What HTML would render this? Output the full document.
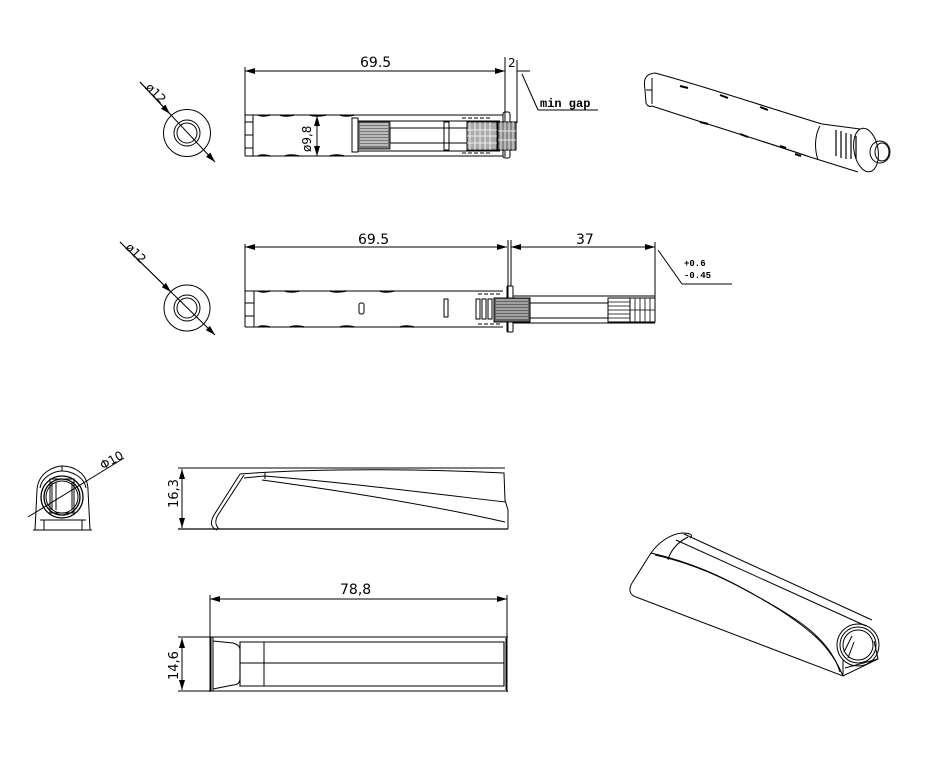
<!DOCTYPE html>
<html><head><meta charset="utf-8"><style>
html,body{margin:0;padding:0;background:#fff}
svg{display:block}
text{font-family:"DejaVu Sans","Liberation Sans",sans-serif;fill:#000}
.m{font-family:"Liberation Mono",monospace;font-weight:bold}
</style></head><body>
<svg width="934" height="760" viewBox="0 0 934 760" xmlns="http://www.w3.org/2000/svg" fill="none" stroke="#000" stroke-width="1">
<defs>
<marker id="a" viewBox="0 0 10 6" refX="10" refY="3" markerWidth="10" markerHeight="6" orient="auto-start-reverse"><path d="M0,0L10,3L0,6z" fill="#000" stroke="none"/></marker>
</defs>

<!-- ROW 1 -->
<circle cx="187" cy="133" r="23.5"/><circle cx="187" cy="133" r="13"/><circle cx="187" cy="133" r="10"/>
<line x1="140" y1="82" x2="215" y2="162" marker-end="url(#a)"/>
<line x1="140" y1="82" x2="170" y2="114" marker-end="url(#a)"/>
<text x="145" y="88" font-size="12" transform="rotate(45 145 88)" stroke="none">ø12</text>

<line x1="245" y1="67" x2="245" y2="115"/>
<line x1="245" y1="71" x2="505" y2="71" marker-start="url(#a)" marker-end="url(#a)"/>
<text x="360" y="67" font-size="14" stroke="none">69.5</text>
<line x1="505" y1="57" x2="505" y2="157"/><line x1="517" y1="60" x2="517" y2="123"/>
<line x1="517" y1="71" x2="530" y2="71"/>
<line x1="492" y1="71" x2="505" y2="71"/>
<text x="508" y="67" font-size="12" stroke="none">2</text>
<line x1="522" y1="74" x2="538" y2="110"/><line x1="538" y1="110" x2="598" y2="110"/>
<text x="540" y="107" class="m" font-size="12" stroke="none">min gap</text>
<!-- body -->
<path d="M245,115 H503 M245,156 H503 M245,115 V156 M253,115 V156"/>
<path d="M245,122 h8 M245,135 h8 M245,148 h8" />
<path d="M258,115 q4,2 12,0 M280,115 q4,2 14,0 M310,115 q6,2 16,0 M340,115 q6,2 14,0 M258,156 q4,-2 12,0 M285,156 q5,-2 14,0 M330,156 q6,-2 14,0" stroke-width="1.5"/>
<line x1="317" y1="116" x2="317" y2="156" marker-start="url(#a)" marker-end="url(#a)"/>
<text x="311" y="152" font-size="12" transform="rotate(-90 311 152)" stroke="none">ø9,8</text>
<rect x="352" y="118" width="6" height="34"/>
<rect x="358" y="122" width="32" height="27" fill="#777" stroke-width="0.8"/>
<path d="M360,124h28M360,127h28M360,130h28M360,133h28M360,136h28M360,139h28M360,142h28M360,145h28" stroke="#fff" stroke-width="0.9"/>
<path d="M358,121 H500 M358,151 H500"/>
<rect x="390" y="128" width="77" height="15"/>
<rect x="444" y="122" width="5" height="28"/>
<rect x="467" y="122" width="30" height="28" fill="#aaa"/>
<path d="M470,122v28M475,122v28M480,122v28M485,122v28M490,122v28M467,130h30M467,136h30M467,143h30" stroke="#fff" stroke-width="0.8"/>
<path d="M462,118h4m2,0h4m2,0h4m2,0h4m2,0h4 M462,153h4m2,0h4m2,0h4m2,0h4m2,0h4"/>
<rect x="503" y="112" width="7" height="46" rx="2"/>
<rect x="498" y="122" width="18" height="28" fill="#888"/>
<path d="M501,122v28M505,122v28M509,122v28M513,122v28M498,131h18M498,140h18" stroke="#fff" stroke-width="0.8"/>

<!-- 3D top -->
<path d="M655,73 C700,85 760,105 822,124 M652,106 C700,122 760,140 810,157" stroke-width="1.1"/>
<path d="M655,73 C646,74 643,78 645,90 L646,103 C647,106 650,107 652,106"/>
<path d="M646,90 h6 M652,78 v26"/>
<path d="M720,95 l8,3 M760,107 l8,3 M680,86 l8,2 M700,122 l8,2 M740,134 l8,3 M780,146 l6,2 M795,154 l6,2" stroke-width="2"/>
<path d="M820,126 C815,135 814,148 818,160"/>
<path d="M836,130 v26 M841,131 v27 M846,133 v26 M851,134 v25 M856,136 v23" stroke-width="1.2"/>
<ellipse cx="866" cy="150" rx="12" ry="22" transform="rotate(-10 866 150)"/>
<ellipse cx="880" cy="152" rx="10" ry="11"/><ellipse cx="882" cy="152" rx="7" ry="9"/>
<line x1="822" y1="124" x2="860" y2="129"/><line x1="810" y1="157" x2="858" y2="172"/>

<!-- ROW 2 -->
<circle cx="187" cy="308" r="23"/><circle cx="187" cy="308" r="13"/><circle cx="187" cy="308" r="10"/>
<line x1="120" y1="242" x2="215" y2="335" marker-end="url(#a)"/>
<line x1="120" y1="242" x2="171" y2="292" marker-end="url(#a)"/>
<text x="125" y="248" font-size="12" transform="rotate(45 125 248)" stroke="none">ø12</text>

<line x1="245" y1="244" x2="245" y2="291"/>
<line x1="245" y1="247" x2="507" y2="247" marker-start="url(#a)" marker-end="url(#a)"/>
<text x="358" y="244" font-size="14" stroke="none">69.5</text>
<line x1="508" y1="240" x2="508" y2="332"/><line x1="511" y1="240" x2="511" y2="286"/>
<line x1="511" y1="247" x2="655" y2="247" marker-start="url(#a)" marker-end="url(#a)"/>
<text x="576" y="244" font-size="14" stroke="none">37</text>
<line x1="655" y1="242" x2="655" y2="322"/>
<line x1="658" y1="250" x2="682" y2="284"/><line x1="682" y1="284" x2="732" y2="284"/>
<text x="684" y="266" class="m" font-size="9" stroke="none">+0.6</text>
<text x="684" y="278" class="m" font-size="9" stroke="none">-0.45</text>

<path d="M245,291 H503 M245,327 H503 M245,291 V327 M254,291 V327 M245,303h9 M245,316h9"/>
<path d="M258,291 q4,2 12,0 M285,291 q6,2 14,0 M330,291 q6,2 16,0 M380,291 q6,2 14,0 M258,327 q4,-2 12,0 M290,327 q6,-2 14,0 M340,327 q6,-2 14,0 M400,327 q6,-2 14,0" stroke-width="1.5"/>
<rect x="359" y="303" width="5" height="11" rx="2"/>
<rect x="444" y="299" width="4" height="18"/>
<rect x="476" y="299" width="4" height="20"/><rect x="482" y="299" width="4" height="20"/><rect x="488" y="299" width="4" height="20"/>
<path d="M478,294h4m2,0h4m2,0h4m2,0h4 M478,324h4m2,0h4m2,0h4m2,0h4"/>
<rect x="507" y="286" width="6" height="46" rx="1"/>
<rect x="494" y="298" width="36" height="24" fill="#666"/>
<path d="M496,300h32M496,303h32M496,306h32M496,309h32M496,312h32M496,315h32M496,318h32" stroke="#fff" stroke-width="0.8"/>
<path d="M513,296 H655 M513,323 H655"/>
<rect x="530" y="303" width="78" height="15"/>
<rect x="608" y="298" width="22" height="24"/>
<path d="M608,302h22M608,306h22M608,310h22M608,314h22M608,318h22" stroke-width="0.7"/>
<rect x="630" y="298" width="25" height="24"/>
<path d="M635,298v24M640,298v24M645,298v24M650,298v24M630,310h25" stroke-width="0.8"/>

<!-- ROW 3 front -->
<path d="M35,530 L37,490 C38,472 55,466 62,466 C72,466 88,472 88,490 L90,530 Z"/>
<line x1="33" y1="530" x2="92" y2="530"/>
<path d="M40,520 H86 M44,530 L44,520 M82,530 L82,520"/>
<path d="M40,488 C42,476 55,471 62,471 C70,471 84,476 86,488"/>
<line x1="62" y1="466" x2="62" y2="471"/>
<circle cx="62" cy="497" r="21" stroke-width="1.3"/><circle cx="62" cy="497" r="18" stroke-width="1.3"/><circle cx="62" cy="497" r="16"/>
<rect x="50" y="479" width="24" height="34"/>
<path d="M52,482 v28 M72,482 v28 M56,482 v28"/>
<line x1="28" y1="517" x2="124" y2="458"/>
<text x="103" y="470" font-size="12" transform="rotate(-30 103 470)" stroke="none">Φ10</text>

<!-- side view -->
<line x1="178" y1="468" x2="505" y2="468"/>
<line x1="178" y1="529" x2="508" y2="529" stroke-width="1.2"/>
<line x1="182" y1="469" x2="182" y2="528" marker-start="url(#a)" marker-end="url(#a)"/>
<text x="178" y="508" font-size="13" transform="rotate(-90 178 508)" stroke="none">16,3</text>
<path d="M240,474 C320,468 420,469 504,473 L505,500 L508,510 V529"/>
<path d="M240,474 L214,515 C209,524 212,528 217,530"/>
<path d="M244,475 L218,515 C214,522 216,526 219,529"/>
<path d="M244,478 L264,476 C340,482 420,492 505,502"/>
<path d="M262,480 C350,492 430,505 505,522"/>
<line x1="265" y1="473" x2="265" y2="479"/>

<!-- top view -->
<line x1="210" y1="595" x2="210" y2="692"/><line x1="507" y1="595" x2="507" y2="692"/>
<line x1="210" y1="599" x2="507" y2="599" marker-start="url(#a)" marker-end="url(#a)"/>
<text x="340" y="594" font-size="14" stroke="none">78,8</text>
<line x1="178" y1="637" x2="508" y2="637"/>
<line x1="178" y1="691" x2="508" y2="691"/>
<line x1="182" y1="638" x2="182" y2="690" marker-start="url(#a)" marker-end="url(#a)"/>
<text x="178" y="680" font-size="13" transform="rotate(-90 178 680)" stroke="none">14,6</text>
<path d="M211,637 V691 M213,637 V691 M506,638 V690"/>
<path d="M240,642 H504 V686 H240 Z" stroke-width="1.1"/>
<path d="M213,641 L233,643 C238,645 240,646 240,650 V678 C240,683 237,685 233,685 L213,689"/>
<line x1="264" y1="642" x2="264" y2="686"/>
<line x1="240" y1="663" x2="504" y2="663"/>

<!-- 3D bottom -->
<path d="M632,583 C628,590 630,595 636,597 L843,676 L878,659 L874,641"/>
<path d="M632,583 L651,553 C658,543 670,534 682,533 C690,533 694,535 690,538"/>
<path d="M684,534 L872,620"/>
<path d="M676,540 L866,626"/>
<path d="M651,553 C690,562 720,575 760,598 C800,620 830,640 840,672"/>
<path d="M655,555 C700,565 740,585 780,610 C810,630 830,645 843,676"/>
<path d="M688,537 C676,543 670,552 668,560"/>
<circle cx="858" cy="645" r="21"/><circle cx="858" cy="645" r="18"/><circle cx="858" cy="645" r="15"/>
<path d="M844,652 L852,636 M848,658 L854,642"/>
<path d="M843,676 L843,660 M845,668 L878,659"/>
</svg>
</body></html>
